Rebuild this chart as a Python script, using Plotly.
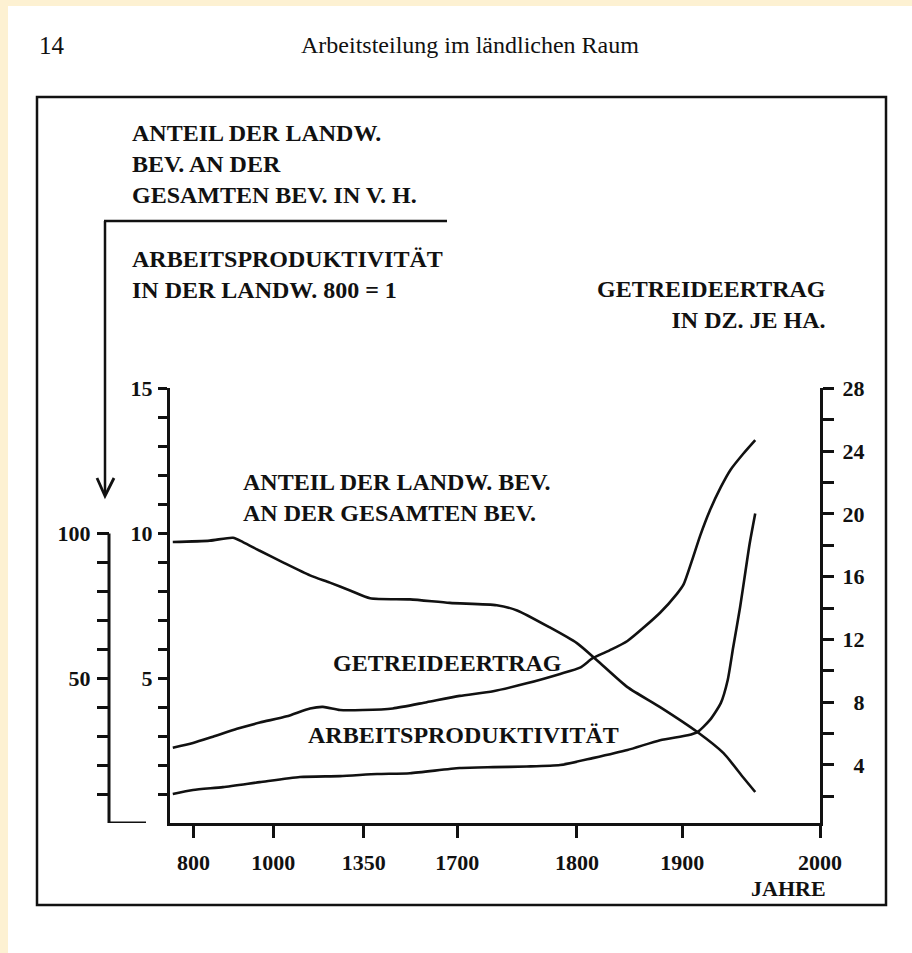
import numpy as np
import plotly.graph_objects as go

# ---- data -----------------------------------------------------------------
# Anteil der landwirtschaftlichen Bevölkerung an der Gesamtbevölkerung (v. H.)
ANTEIL_YEARS = [748, 841, 899, 924, 966, 1037, 1142, 1219, 1297, 1374, 1523,
                1672, 1733, 1750, 1777, 1800, 1819, 1848, 1879, 1911, 1930,
                1944, 1953]
ANTEIL_PCT = [97.0, 97.5, 98.5, 97.0, 94.0, 90.0, 85.5, 83.0, 80.3, 77.6, 77.2,
              76.0, 75.2, 73.4, 67.6, 62.1, 56.2, 46.9, 40.0, 31.4, 24.1,
              15.9, 10.7]

# Getreideertrag in dz je ha
GETREIDE_YEARS = [748, 799, 849, 909, 966, 1052, 1142, 1192, 1258, 1347, 1459,
                  1586, 1702, 1730, 1758, 1786, 1803, 1815, 1831, 1848, 1879,
                  1895, 1901, 1907, 1913, 1920, 1928, 1935, 1944, 1953]
GETREIDE_DZ = [5.1, 5.4, 5.8, 6.3, 6.7, 7.1, 7.6, 7.7, 7.5, 7.5, 7.6,
               8.0, 8.4, 8.7, 9.2, 9.8, 10.2, 10.8, 11.3, 11.9, 13.7,
               14.9, 15.5, 17.0, 18.6, 20.2, 21.7, 22.8, 23.8, 24.7]

# Arbeitsproduktivität in der Landwirtschaft (800 = 1)
AP_YEARS = [748, 799, 874, 966, 1103, 1258, 1400, 1523, 1702, 1730, 1758, 1786,
            1815, 1848, 1879, 1904, 1911, 1920, 1928, 1933, 1937, 1942, 1946,
            1949, 1953]
AP_INDEX = [1.0, 1.14, 1.24, 1.41, 1.59, 1.62, 1.69, 1.72, 1.90, 1.93, 1.95, 2.0,
            2.24, 2.52, 2.86, 3.03, 3.14, 3.55, 4.14, 4.93, 6.07, 7.45, 8.72,
            9.66, 10.69]

# axis ticks
X_TICK_YEARS = [800, 1000, 1350, 1700, 1800, 1900, 2000]
X_TICK_LABELS = ["800", "1000", "1350", "1700", "1800", "1900", "2000"]
LEFT_TICKS = list(range(1, 16))
LEFT_LABELS = ["5", "10", "15"]
PCT_TICKS = list(range(10, 101, 10))
PCT_LABELS = ["50", "100"]
RIGHT_TICKS = list(range(2, 29, 2))
RIGHT_LABELS = ["4", "8", "12", "16", "20", "24", "28"]

# ---- time scale: the year axis is drawn with uneven spacing between epochs --
SCALE_YEARS = [741] + X_TICK_YEARS
SCALE_POS = [0.0, 0.036, 0.159, 0.298, 0.442, 0.626, 0.788, 1.0]


def tscale(years):
    return np.interp(years, SCALE_YEARS, SCALE_POS)


# ---- page geometry helpers (page pixels -> paper fractions) ----------------
W, H = 912, 953
ML, MR, MT, MB = 60, 92, 388, 130
PW, PH = W - ML - MR, H - MT - MB


def px(x):
    return (x - ML) / PW


def py(y):
    return (H - MB - y) / PH


SERIF = "Liberation Serif"
INK = "#111111"
LW = 2.6

fig = go.Figure()

line_style = dict(color=INK, width=LW, shape="spline", smoothing=0.6)

fig.add_trace(go.Scatter(x=tscale(ANTEIL_YEARS), y=ANTEIL_PCT, mode="lines",
                         line=line_style, xaxis="x", yaxis="y3",
                         name="Anteil der landw. Bev."))
fig.add_trace(go.Scatter(x=tscale(GETREIDE_YEARS), y=GETREIDE_DZ, mode="lines",
                         line=line_style, xaxis="x", yaxis="y2",
                         name="Getreideertrag"))
fig.add_trace(go.Scatter(x=tscale(AP_YEARS), y=AP_INDEX, mode="lines",
                         line=line_style, xaxis="x", yaxis="y",
                         name="Arbeitsproduktivität"))

tick_font = dict(family=SERIF, size=22, color=INK, weight="bold")


def sparse_labels(ticks, labels, pad=0):
    # unlabelled ticks get an empty string; optional figure-space padding
    # right-aligns the numbers on the right-hand scale
    out = []
    for t in ticks:
        s = str(t) if str(t) in labels else ""
        out.append(s.rjust(pad, "\u2007") if s else s)
    return out


x0_dom = px(170)

fig.update_layout(
    width=W, height=H,
    template="none",
    showlegend=False,
    paper_bgcolor="#FDF1D2",
    plot_bgcolor="rgba(0,0,0,0)",
    margin=dict(l=ML, r=MR, t=MT, b=MB, autoexpand=False),
    xaxis=dict(domain=[x0_dom, 1], range=[0, 1], showgrid=False, zeroline=False,
               showline=True, linecolor=INK, linewidth=3,
               ticks="outside", ticklen=12, tickwidth=2.5, tickcolor=INK,
               tickvals=list(tscale(X_TICK_YEARS)), ticktext=X_TICK_LABELS,
               tickfont=tick_font, ticklabelstandoff=6),
    yaxis=dict(range=[0, 15.02], showgrid=False, zeroline=False,
               showline=True, linecolor=INK, linewidth=3,
               ticks="outside", ticklen=9, tickwidth=2.5, tickcolor=INK,
               tickvals=LEFT_TICKS,
               ticktext=sparse_labels(LEFT_TICKS, LEFT_LABELS),
               tickfont=tick_font, ticklabelstandoff=1),
    yaxis2=dict(overlaying="y", side="right", anchor="x",
                range=[0.3, 28.02], showgrid=False, zeroline=False,
                showline=True, linecolor=INK, linewidth=3,
                ticks="outside", ticklen=11, tickwidth=2.5, tickcolor=INK,
                tickvals=RIGHT_TICKS,
                ticktext=sparse_labels(RIGHT_TICKS, RIGHT_LABELS, pad=2),
                tickfont=tick_font, ticklabelstandoff=4),
    yaxis3=dict(overlaying="y", side="left", anchor="free", position=px(109),
                range=[0, 150.2], showgrid=False, zeroline=False,
                showline=False,
                ticks="outside", ticklen=12, tickwidth=2.5, tickcolor=INK,
                tickvals=PCT_TICKS,
                ticktext=sparse_labels(PCT_TICKS, PCT_LABELS),
                tickfont=tick_font, ticklabelstandoff=2),
)

shapes = [
    # white page over the cream scan border
    dict(type="rect", xref="paper", yref="paper", layer="below",
         x0=px(8), x1=px(W + 5), y0=py(6), y1=py(H + 5),
         fillcolor="white", line=dict(width=0)),
    # frame around the figure
    dict(type="rect", xref="paper", yref="paper",
         x0=px(37), x1=px(886), y0=py(97), y1=py(905),
         line=dict(color=INK, width=2.5)),
    # bracket and arrow from the percentage caption down to its axis
    dict(type="line", xref="paper", yref="paper",
         x0=px(104), x1=px(447), y0=py(221), y1=py(221),
         line=dict(color=INK, width=2.5)),
    dict(type="line", xref="paper", yref="paper",
         x0=px(105), x1=px(105), y0=py(221), y1=py(495),
         line=dict(color=INK, width=2.5)),
    dict(type="path", xref="paper", yref="paper",
         path=f"M {px(97)},{py(478)} L {px(105)},{py(496)} L {px(114)},{py(478)}",
         line=dict(color=INK, width=2.8)),
    # percentage axis: spine from 0 to 100 with a foot at the base
    dict(type="line", xref="paper", yref="y3",
         x0=px(109), x1=px(109), y0=0, y1=100,
         line=dict(color=INK, width=3)),
    dict(type="line", xref="paper", yref="y3",
         x0=px(109), x1=px(146), y0=0, y1=0,
         line=dict(color=INK, width=3)),
]
fig.update_layout(shapes=shapes)


def note(text, x, y, xanchor="left", align="left", size=24, weight="bold"):
    return dict(text=text, xref="paper", yref="paper", x=px(x), y=py(y),
                xanchor=xanchor, yanchor="middle", align=align,
                showarrow=False,
                font=dict(family=SERIF, size=size, color=INK, weight=weight))


annotations = [
    note("14", 37, 45, size=25, weight="normal"),
    note("Arbeitsteilung im ländlichen Raum", 470, 45, xanchor="center",
         align="center", size=24, weight="normal"),
    note("ANTEIL DER LANDW.<br>BEV. AN DER<br>GESAMTEN BEV. IN V. H.", 130, 164),
    note("ARBEITSPRODUKTIVITÄT<br>IN DER LANDW. 800 = 1", 130, 274),
    note("GETREIDEERTRAG<br>IN DZ. JE HA.", 828, 304, xanchor="right",
         align="right"),
    note("ANTEIL DER LANDW. BEV.<br>AN DER GESAMTEN BEV.", 241, 497),
    note("GETREIDEERTRAG", 331, 663),
    note("ARBEITSPRODUKTIVITÄT", 306, 735),
    note("JAHRE", 828, 888, xanchor="right", align="right", size=22),
]
fig.update_layout(annotations=annotations)

fig.write_html("out.html")
